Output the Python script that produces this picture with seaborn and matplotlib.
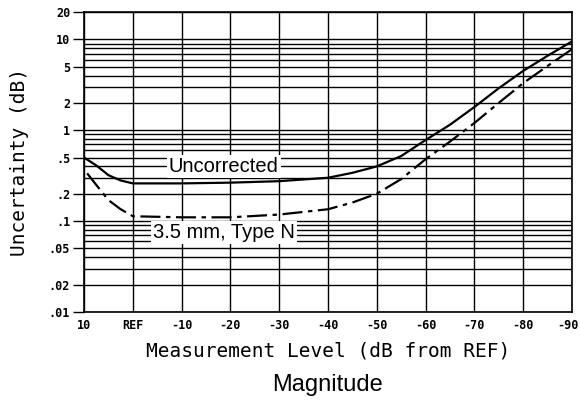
import matplotlib
matplotlib.use("Agg")
import matplotlib.pyplot as plt
import matplotlib.ticker as mticker
import matplotlib.transforms as mtransforms
import pandas as pd
import seaborn as sns

# values (dB level vs uncertainty in dB)
level_db = [10, 7.5, 5, 2.5, 0, -10, -20, -30, -40, -45, -50, -55, -60, -65, -70, -75, -80, -85, -90]
uncorrected = [0.50, 0.41, 0.32, 0.28, 0.26, 0.26, 0.265, 0.275, 0.30, 0.34, 0.40, 0.52, 0.78, 1.15, 1.8, 2.9, 4.5, 6.6, 9.5]
type_n = [0.37, 0.25, 0.17, 0.135, 0.113, 0.11, 0.11, 0.118, 0.135, 0.16, 0.20, 0.29, 0.48, 0.75, 1.2, 2.0, 3.3, 5.1, 7.8]

x_ticks = [10, 0, -10, -20, -30, -40, -50, -60, -70, -80, -90]
x_labels = ["10", "REF", "-10", "-20", "-30", "-40", "-50", "-60", "-70", "-80", "-90"]
y_ticks = [0.01, 0.02, 0.05, 0.1, 0.2, 0.5, 1, 2, 5, 10, 20]
y_labels = [".01", ".02", ".05", ".1", ".2", ".5", "1", "2", "5", "10", "20"]

df = pd.DataFrame({"level": level_db, "uncorrected": uncorrected, "type_n": type_n})

sns.set_style("white")
plt.rcParams["font.family"] = ["DejaVu Sans Mono", "DejaVu Sans"]
plt.rcParams.update({"text.color": "black", "axes.labelcolor": "black",
                     "xtick.color": "black", "ytick.color": "black"})

fig = plt.figure(figsize=(5.8, 4.04), dpi=100)
ax = fig.add_axes([0.145, 0.228, 0.841, 0.742])

sns.lineplot(data=df, x="level", y="uncorrected", ax=ax, color="black", linewidth=1.6)
sns.lineplot(data=df, x="level", y="type_n", ax=ax, color="black", linewidth=1.6,
             linestyle=(0, (9, 2.5, 2, 2.5)))

ax.set_yscale("log")
ax.set_xlim(10, -90)
ax.set_ylim(0.01, 20)

ax.yaxis.set_major_locator(mticker.FixedLocator(y_ticks))
ax.yaxis.set_major_formatter(mticker.FixedFormatter(y_labels))
ax.yaxis.set_minor_locator(mticker.LogLocator(base=10, subs=[3, 4, 6, 7, 8, 9]))
ax.yaxis.set_minor_formatter(mticker.NullFormatter())
ax.set_xticks(x_ticks)
ax.set_xticklabels(x_labels)

ax.set_axisbelow(True)
ax.grid(True, which="both", axis="y", color="black", linewidth=1.0)
ax.grid(True, which="major", axis="x", color="black", linewidth=1.0)

ax.tick_params(axis="y", which="major", direction="out", length=8, width=1.0, pad=2,
               labelsize=8.5, left=True, color="black", labelcolor="black")
ax.tick_params(axis="y", which="minor", length=0)
ax.tick_params(axis="x", length=0, pad=5, labelsize=8.5, labelcolor="black")
for lab in ax.get_xticklabels() + ax.get_yticklabels():
    lab.set_fontweight("bold")
# last x label sits at the right edge, nudge it inward a little
last = ax.get_xticklabels()[-1]
last.set_transform(last.get_transform() + mtransforms.ScaledTranslation(-4 / 100, 0, fig.dpi_scale_trans))

for s in ax.spines.values():
    s.set_color("black")
    s.set_linewidth(1.2)

ax.set_xlabel("Measurement Level (dB from REF)", fontsize=14, labelpad=7, color="black")
ax.set_ylabel("Uncertainty (dB)", fontsize=14, labelpad=14, color="black")

box = dict(facecolor="white", edgecolor="none", pad=1.5)
ax.text(-18.6, 0.40, "Uncorrected", ha="center", va="center", fontsize=14.5, color="black",
        family=["Liberation Sans", "DejaVu Sans"], bbox=box)
ax.text(-18.6, 0.075, "3.5 mm, Type N", ha="center", va="center", fontsize=14.5, color="black",
        family=["Liberation Sans", "DejaVu Sans"], bbox=box)

fig.text(0.565, 0.047, "Magnitude", ha="center", va="center", fontsize=17, color="black",
         family=["Liberation Sans", "DejaVu Sans"])

fig.savefig("out.png", dpi=100)
